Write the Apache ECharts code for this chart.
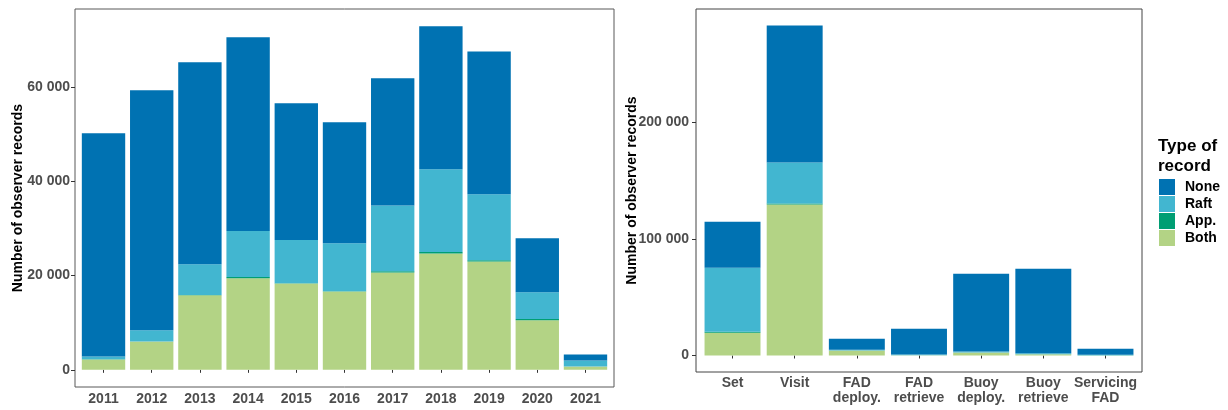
<!DOCTYPE html>
<html>
<head>
<meta charset="utf-8">
<script src="https://cdn.jsdelivr.net/npm/echarts@6/dist/echarts.min.js"></script>
<style>
  html, body { margin: 0; padding: 0; background: #fff; }
  #chart { width: 1228px; height: 410px; }
</style>
</head>
<body>
<div id="chart"></div>
<script>
// Observer records per year, stacked by type of record
const years = ['2011', '2012', '2013', '2014', '2015', '2016', '2017', '2018', '2019', '2020', '2021'];
const yearBoth = [2200, 6000, 15800, 19400, 18300, 16600, 20650, 24700, 23000, 10500, 700];
const yearApp  = [30, 20, 50, 280, 60, 50, 260, 280, 260, 260, 10];
const yearRaft = [600, 2350, 6550, 9770, 9200, 10200, 13970, 17570, 13970, 5670, 1250];
const yearNone = [47370, 50930, 42850, 41100, 28990, 25650, 26970, 30350, 30320, 11470, 1290];

// Observer records per activity, stacked by type of record
const activities = ['Set', 'Visit', 'FAD\ndeploy.', 'FAD\nretrieve', 'Buoy\ndeploy.', 'Buoy\nretrieve', 'Servicing\nFAD'];
const actBoth = [19500, 129400, 4300, 200, 2600, 1000, 100];
const actApp  = [950, 950, 50, 20, 50, 50, 10];
const actRaft = [54800, 35100, 600, 600, 800, 800, 500];
const actNone = [39550, 117550, 9450, 22080, 66650, 72550, 5140];

const yearTicks = [0, 20000, 40000, 60000];
const actTicks = [0, 100000, 200000];

const recordTypes = ['None', 'Raft', 'App.', 'Both'];
const colors = { 'None': '#0072B2', 'Raft': '#42B6D0', 'App.': '#009E73', 'Both': '#B3D385' };

const FONT = "'Liberation Sans', Arial, sans-serif";
const W = 1228, H = 410;

function fmt(v) {
  return String(Math.round(v)).replace(/\B(?=(\d{3})+(?!\d))/g, ' ');
}
function totals(arrs) { return arrs[0].map((_, i) => arrs.reduce((s, a) => s + a[i], 0)); }

const yearMax = Math.max(...totals([yearBoth, yearApp, yearRaft, yearNone]));
const actMax = Math.max(...totals([actBoth, actApp, actRaft, actNone]));

// Panel frames (pixel boxes); the bar area sits 0.1 category inside each side,
// giving the usual 0.6-category padding around the outer bars.
const panels = [
  { x0: 75, x1: 614, y0: 9, y1: 387, n: years.length, border: '#595959' },
  { x0: 696, x1: 1142, y0: 9, y1: 372, n: activities.length, border: '#444' }
];
function frameGrid(p) {
  return { left: p.x0, right: W - p.x1, top: p.y0, bottom: H - p.y1,
           show: true, borderColor: p.border, borderWidth: 1, backgroundColor: 'transparent' };
}
function barGrid(p) {
  const inset = 0.1 * (p.x1 - p.x0) / (p.n + 1.2);
  return { left: p.x0 + inset, right: W - p.x1 + inset, top: p.y0, bottom: H - p.y1, show: false };
}

const labelStyle = { color: '#4D4D4D', fontFamily: FONT, fontWeight: 'bold', fontSize: 14 };

function hiddenX(gridIndex) {
  return { type: 'value', gridIndex, min: 0, max: 1, show: false };
}
function categoryX(gridIndex, labels, lineHeight) {
  return {
    type: 'category', gridIndex, data: labels,
    axisLine: { show: false },
    axisTick: { show: true, alignWithLabel: true, length: 3, lineStyle: { color: '#333', width: 1 } },
    axisLabel: Object.assign({ interval: 0, margin: 4, lineHeight }, labelStyle),
    splitLine: { show: false }
  };
}
function visibleY(gridIndex, maxV, ticks, nameGap, labelMargin) {
  return {
    type: 'value', gridIndex,
    min: -0.05 * maxV, max: 1.05 * maxV,
    name: 'Number of observer records', nameLocation: 'middle', nameRotate: 90, nameGap,
    nameMoveOverlap: false,
    nameTextStyle: { color: '#000', fontFamily: FONT, fontWeight: 'bold', fontSize: 14 },
    splitLine: { show: false },
    axisLine: { show: false },
    axisTick: { show: true, length: 4, customValues: ticks, lineStyle: { color: '#333', width: 1 } },
    axisLabel: Object.assign({ customValues: ticks, formatter: v => fmt(v), margin: labelMargin }, labelStyle)
  };
}
function hiddenY(gridIndex, maxV) {
  return { type: 'value', gridIndex, min: -0.05 * maxV, max: 1.05 * maxV, show: false, splitLine: { show: false } };
}

function stackSeries(idx, stack, data) {
  const order = [['Both', data.both], ['App.', data.app], ['Raft', data.raft], ['None', data.none]];
  return order.map(([name, vals]) => ({
    name, type: 'bar', stack, xAxisIndex: idx, yAxisIndex: idx,
    barCategoryGap: '10%',
    itemStyle: { color: colors[name] },
    emphasis: { disabled: true },
    data: vals
  }));
}

const chart = echarts.init(document.getElementById('chart'), null, { renderer: 'canvas' });
chart.setOption({
  animation: false,
  backgroundColor: '#fff',
  title: {
    text: 'Type of\nrecord', left: 1158, top: 136, padding: 0,
    textStyle: { color: '#000', fontFamily: FONT, fontWeight: 'bold', fontSize: 17, lineHeight: 20 }
  },
  legend: {
    data: recordTypes, orient: 'vertical', left: 1159, top: 179, padding: 0,
    itemWidth: 16, itemHeight: 16, itemGap: 1, icon: 'rect', selectedMode: false,
    textStyle: { color: '#000', fontFamily: FONT, fontWeight: 'bold', fontSize: 14, padding: [0, 0, 0, 5] }
  },
  grid: [frameGrid(panels[0]), barGrid(panels[0]), frameGrid(panels[1]), barGrid(panels[1])],
  xAxis: [
    hiddenX(0),
    categoryX(1, years, 16),
    hiddenX(2),
    categoryX(3, activities, 15)
  ],
  yAxis: [
    visibleY(0, yearMax, yearTicks, 50, 5),
    hiddenY(1, yearMax),
    visibleY(2, actMax, actTicks, 57, 7),
    hiddenY(3, actMax)
  ],
  series: [
    ...stackSeries(1, 'years', { both: yearBoth, app: yearApp, raft: yearRaft, none: yearNone }),
    ...stackSeries(3, 'acts', { both: actBoth, app: actApp, raft: actRaft, none: actNone })
  ]
});
</script>
</body>
</html>
